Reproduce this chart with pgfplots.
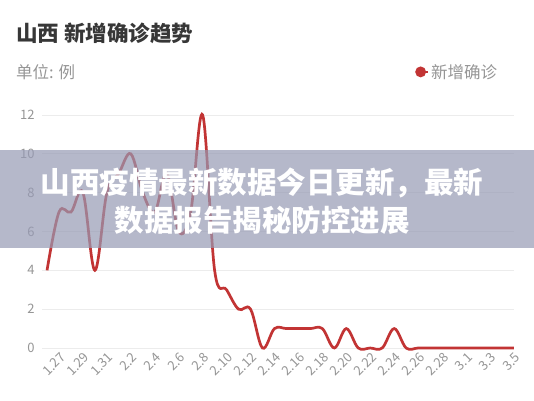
\documentclass[border=0pt]{standalone}
\usepackage{fontspec}
\setmainfont{Noto Sans CJK SC}
\usepackage{pgfplots}
\pgfplotsset{compat=1.18}

\definecolor{linered}{RGB}{194,52,52}
\definecolor{gridgray}{RGB}{236,236,236}
\definecolor{ticktext}{RGB}{150,150,150}
\definecolor{titletext}{RGB}{55,55,55}
\definecolor{band}{RGB}{150,154,180}

\begin{document}
\begin{tikzpicture}[x=1pt,y=1pt]
\fill[white] (0,0) rectangle (534,400);
\useasboundingbox (0,0) rectangle (534,400);

\node[anchor=west, text=titletext, font=\fontsize{21.5}{25}\selectfont\bfseries, inner sep=0] at (16,367) {山西 新增确诊趋势};
\node[anchor=west, text=ticktext, font=\fontsize{16.5}{19}\selectfont, inner sep=0] at (16,328) {单位: 例};

\begin{axis}[
  at={(42pt,52pt)}, anchor=south west,
  scale only axis, width=472pt, height=233pt,
  xmin=-0.42, xmax=39.01, ymin=0, ymax=12,
  ytick={0,2,...,12},
  xtick={1,3,...,39},
  xticklabels={1.27,1.29,1.31,2.2,2.4,2.6,2.8,2.10,2.12,2.14,2.16,2.18,2.20,2.22,2.24,2.26,2.28,3.1,3.3,3.5},
  ymajorgrids, grid style={gridgray, line width=0.8pt},
  axis line style={draw=none}, major tick style={draw=none},
  ticklabel style={text=ticktext, font=\fontsize{13}{15}\selectfont},
  /pgf/number format/assume math mode=true,
  yticklabel style={anchor=east, xshift=-4pt},
  xticklabel style={rotate=45, anchor=east, xshift=1pt, yshift=-8pt},
  clip=false,
  legend style={at={(0.975,1.185)}, anchor=east, draw=none, fill=none,
    font=\fontsize{16.5}{19}\selectfont, text=ticktext},
  legend image code/.code={\path (-4pt,0pt) -- (7pt,0pt);
    \fill[linered] (0pt,0pt) circle (4pt);},
]
% daily new confirmed, 1.26 .. 3.5
\addplot[linered, line width=2.7pt, smooth, tension=0.6, mark=none] table {
  i  n
  0  4
  1  7
  2  7
  3  8
  4  4
  5  8
  6  9
  7  10
  8  8
  9  7
  10 9
  11 6
  12 7
  13 12
  14 4
  15 3
  16 2
  17 2
  18 0
  19 1
  20 1
  21 1
  22 1
  23 1
  24 0
  25 1
  26 0
  27 0
  28 0
  29 1
  30 0
  31 0
  32 0
  33 0
  34 0
  35 0
  36 0
  37 0
  38 0
  39 0
};
\addlegendentry{新增确诊}
\end{axis}

\fill[band, opacity=0.7] (0,152) rectangle (534,250);
\node[text=white, font=\fontsize{29.5}{33}\selectfont\bfseries, inner sep=0] at (262,217) {山西疫情最新数据今日更新，最新};
\node[text=white, font=\fontsize{29.5}{33}\selectfont\bfseries, inner sep=0] at (262,180) {数据报告揭秘防控进展};
\end{tikzpicture}
\end{document}
